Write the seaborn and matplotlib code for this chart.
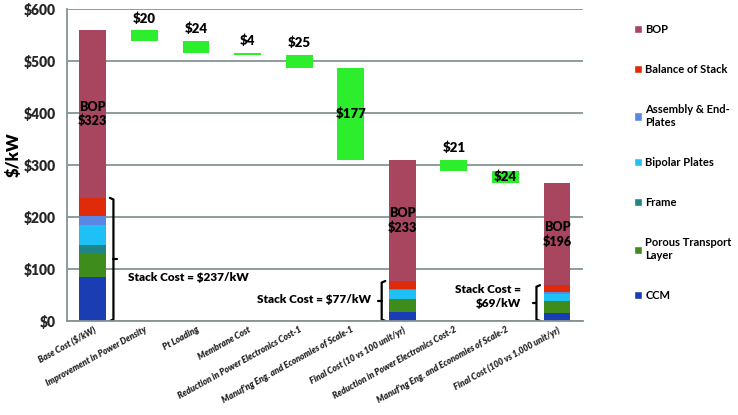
"""
Fuel cell system cost waterfall: base cost to high-volume cost.
"""

import numpy as np
import matplotlib.pyplot as plt
from matplotlib.patches import Patch
from matplotlib.ticker import FuncFormatter
import seaborn as sns

# Theme
sns.set_style('white')
plt.rcParams['font.family'] = ['Lato', 'DejaVu Sans']
plt.rcParams['text.color'] = 'black'

# Data
categories = ['Base Cost ($/kW)', 'Improvement in Power Density', 'Pt Loading',
              'Membrane Cost', 'Reduction in Power Electronics Cost-1',
              "Manuf'ng Eng. and Economies of Scale-1", 'Final Cost (10 vs 100 unit/yr)',
              'Reduction in Power Electronics Cost-2',
              "Manuf'ng Eng. and Economies of Scale-2",
              'Final Cost (100 vs 1,000 unit/yr)']

stack_idx = [0, 6, 9]          # categories that are full stacked bars
ccm = [84, 18, 15]
ptl = [46, 23, 23]
frame = [16, 2, 1]
bipolar = [39, 16, 13]
assembly = [18, 3, 3]
bos = [34, 15, 14]
bop = [323, 233, 196]
stack_cost = [237, 77, 69]

step_idx = [1, 2, 3, 4, 5, 7, 8]   # waterfall reductions
steps = [20, 24, 4, 25, 177, 21, 24]

layer_names = ['CCM', 'Porous Transport\nLayer', 'Frame', 'Bipolar Plates',
               'Assembly & End-\nPlates', 'Balance of Stack', 'BOP']
layer_values = [ccm, ptl, frame, bipolar, assembly, bos, bop]
layer_colors = ['#1b3db3', '#3e8c1c', '#1e8686', '#1fc0f6', '#5b87e4', '#e02b0b', '#a8455f']
step_color = '#2cee2c'

n = len(categories)
bar_w = 0.52

fig = plt.figure(figsize=(7.38, 4.15), dpi=100)
ax = fig.add_axes([0.0908, 0.2265, 0.699, 0.751])

# Stacked bars
base = np.zeros(n)
for name, vals, col in zip(layer_names, layer_values, layer_colors):
    h = np.zeros(n)
    h[stack_idx] = vals
    sns.barplot(x=categories, y=h, order=categories, color=col, saturation=1,
                width=bar_w, bottom=base.copy(), linewidth=0, errorbar=None, ax=ax)
    base += h

# Waterfall steps
h = np.zeros(n)
b = np.zeros(n)
running = base[0]
for i, s in zip(step_idx, steps):
    if i - 1 in stack_idx:
        running = base[i - 1]
    h[i] = s
    b[i] = running - s
    running -= s
sns.barplot(x=categories, y=h, order=categories, color=step_color, saturation=1,
            width=bar_w, bottom=b, linewidth=0, errorbar=None, ax=ax)

# Step labels
inside = [False, False, False, False, True, False, True]
for i, s, ins in zip(step_idx, steps, inside):
    if ins:
        ax.text(i, b[i] + s / 2, f'${s}', ha='center', va='center',
                fontsize=9.5, fontweight='heavy')
    else:
        ax.annotate(f'${s}', (i, b[i] + s), xytext=(0, 4), textcoords='offset points',
                    ha='center', va='bottom', fontsize=9.5, fontweight='heavy')

# BOP labels
for k, i in enumerate(stack_idx):
    ax.text(i, stack_cost[k] + bop[k] / 2, f'BOP\n${bop[k]}', ha='center', va='center',
            fontsize=9, fontweight='heavy', linespacing=1.2)

# Stack cost braces
def brace(ax, x, y0, y1, side):
    d = 0.07 * side
    ax.plot([x - d, x, x, x - d], [y1, y1 - 3, y0 + 3, y0], color='black', lw=1.6,
            solid_joinstyle='round', solid_capstyle='round')
    ym = (y0 + y1) / 2
    ax.plot([x, x + d], [ym, ym], color='black', lw=1.6, solid_capstyle='round')

brace(ax, 0 + 0.4, 0, stack_cost[0], 1)
ax.text(0.68, 84, f'Stack Cost = ${stack_cost[0]}/kW', ha='left', va='center',
        fontsize=8.5, fontweight='heavy')
brace(ax, 6 - 0.4, 0, stack_cost[1], -1)
ax.text(5.4, stack_cost[1] / 2 + 2, f'Stack Cost = ${stack_cost[1]}/kW', ha='right',
        va='center', fontsize=8.5, fontweight='heavy')
brace(ax, 9 - 0.4, 0, stack_cost[2], -1)
ax.text(8.3, stack_cost[2] / 2 + 12, f'Stack Cost =\n${stack_cost[2]}/kW', ha='right',
        va='center', fontsize=8.5, fontweight='heavy', multialignment='right',
        linespacing=1.35)

# Axes styling
ax.set_xlim(-0.5, n - 0.5)
ax.set_ylim(0, 600)
ax.set_yticks(range(0, 601, 100))
ax.yaxis.set_major_formatter(FuncFormatter(lambda v, p: f'${v:.0f}'))
ax.yaxis.grid(True, color='#869494', lw=1.3)
ax.set_axisbelow(True)
for side in ['top', 'right']:
    ax.spines[side].set_visible(False)
for side in ['left', 'bottom']:
    ax.spines[side].set_color('#869494')
    ax.spines[side].set_linewidth(1.3)
ax.tick_params(axis='y', length=0, pad=8, labelsize=10)
ax.tick_params(axis='x', length=0, pad=3)
for t in ax.get_yticklabels():
    t.set_fontweight('heavy')
ax.set_xticks(range(n))
ax.set_xticklabels(categories, rotation=29, ha='right', rotation_mode='anchor',
                   fontsize=6.2, fontstyle='italic', fontweight='heavy')
ax.set_xlabel('')
ax.set_ylabel('')
fig.text(0.018, 0.627, '$/kW', rotation=90, ha='center', va='center',
         fontsize=12, fontweight='heavy')

# Legend
handles = [Patch(facecolor=c) for c in layer_colors[::-1]]
fig.legend(handles, layer_names[::-1], loc='upper left', bbox_to_anchor=(0.845, 0.967),
           frameon=False, labelspacing=2.62, handlelength=0.75, handleheight=0.75,
           handletextpad=0.3, prop={'size': 8, 'weight': 'bold'})

fig.savefig('out.png', dpi=100)
